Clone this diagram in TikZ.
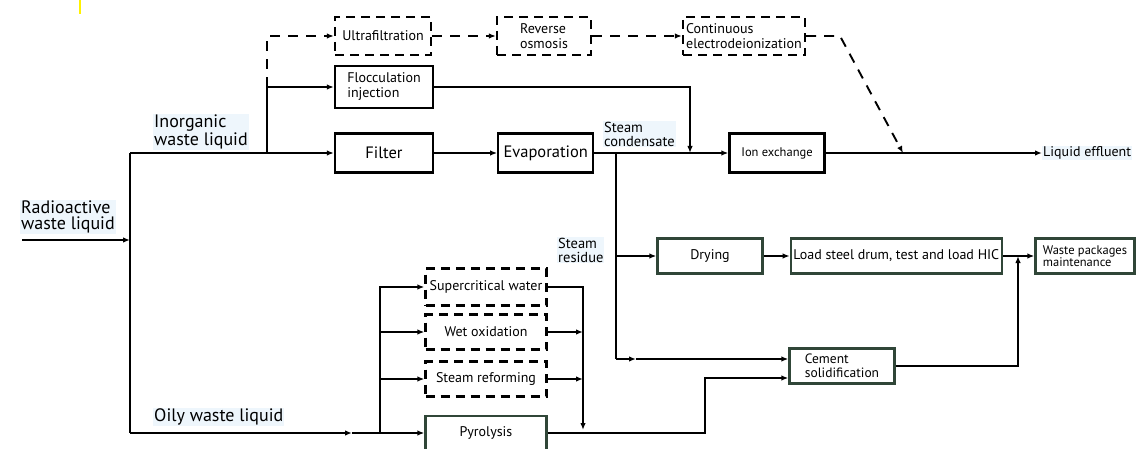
\documentclass[tikz,border=0pt]{standalone}
\usepackage{fontspec}
\setmainfont{PT Sans}
\usetikzlibrary{arrows.meta,positioning,calc}
\definecolor{boxgreen}{RGB}{48,70,56}
\definecolor{tagblue}{RGB}{238,246,252}
\tikzset{
	box/.style={
		rectangle, draw, line width=2.3pt, fill=white,
		align=left, inner sep=2pt,
		font=\fontsize{14}{15}\selectfont,
	},
	dbox/.style={box, dash pattern=on 9pt off 6pt},
	gbox/.style={box, draw=boxgreen},
	tag/.style={align=left, inner sep=1pt, fill=tagblue, font=\fontsize{18}{16}\selectfont},
	flow/.style={->, line width=1.9pt},
	dflow/.style={flow, dash pattern=on 10pt off 8pt},
}

\begin{document}
\begin{tikzpicture}[x=1pt, y=-1pt, >={Latex[length=7pt,width=5.5pt]}]
	\useasboundingbox (0,0) rectangle (1138,449);
	\draw[yellow, line width=2.5pt] (80,0) -- (80,14);
	% Inorganic branch boxes
	\node[dbox, minimum width=96pt, minimum height=38pt] (ultra) at (383,36) {Ultrafiltration};
	\node[dbox, minimum width=94pt, minimum height=38pt] (revosm) at (544,36) {Reverse\\osmosis};
	\node[dbox, minimum width=122pt, minimum height=38pt] (cedi) at (744,36) {Continuous\\electrodeionization};
	\node[box, minimum width=98pt, minimum height=42pt] (flocc) at (384,87) {Flocculation\\injection};
	\node[box, minimum width=98pt, minimum height=39pt, font=\fontsize{16.5}{17}\selectfont] (filter) at (384,153) {Filter};
	\node[box, minimum width=95pt, minimum height=39pt, font=\fontsize{16.5}{17}\selectfont, right=63pt of filter] (evap) {Evaporation};
	\node[box, minimum width=95pt, minimum height=39pt, font=\fontsize{12.5}{14}\selectfont] (ionx) at (777,153) {Ion exchange};
	% Residue and solid waste boxes
	\node[gbox, minimum width=105pt, minimum height=35pt] (drying) at (710,256) {Drying};
	\node[gbox, minimum width=211pt, minimum height=35pt, right=26pt of drying] (loadhic) {Load steel drum, test and load HIC};
	\node[gbox, minimum width=99pt, minimum height=35pt, font=\fontsize{12.5}{12}\selectfont] (wastepk) at (1085,256) {Waste packages\\maintenance};
	\node[gbox, minimum width=105pt, minimum height=35pt, font=\fontsize{13.5}{14}\selectfont] (cement) at (842,366) {Cement\\solidification};
	% Oily branch boxes
	\node[dbox, minimum width=121pt, minimum height=37pt] (scw) at (486,287) {Supercritical water};
	\node[dbox, minimum width=121pt, minimum height=35pt] (wetox) at (486,332) {Wet oxidation};
	\node[dbox, minimum width=121pt, minimum height=35pt] (steamref) at (486,379) {Steam reforming};
	\node[gbox, minimum width=121pt, minimum height=34pt] (pyro) at (486,433) {Pyrolysis};
	% Labels
	\node[tag, anchor=west] (radio) at (20,217) {Radioactive\\waste liquid};
	\node[tag, anchor=west] (inorglbl) at (153,132) {Inorganic\\waste liquid};
	\node[tag, anchor=west] (oilylbl) at (153,417) {Oily waste liquid};
	\node[tag, anchor=west, font=\fontsize{14.5}{14}\selectfont] (condlbl) at (603,134) {Steam\\condensate};
	\node[tag, anchor=west, font=\fontsize{14.5}{14}\selectfont] (residlbl) at (557,250) {Steam\\residue};
	\node[tag, anchor=west, font=\fontsize{14}{14}\selectfont] (effluent) at (1042,153) {Liquid effluent};
	% Junction points
	\coordinate (rin) at (22,240);
	\coordinate (rjoin) at (130,240);
	\coordinate (inorg) at (130,153);
	\coordinate (oily) at (130,433);
	\coordinate (split) at (267,153);
	\coordinate (floctap) at (690,153);
	\coordinate (cedibend) at (840,36);
	\coordinate (cedijoin) at (903,153);
	\coordinate (cond) at (616,153);
	\coordinate (resid) at (616,256);
	\coordinate (condlow) at (616,359);
	\coordinate (condmid) at (636,359);
	\coordinate (packjoin) at (1018,256);
	\coordinate (oilmid) at (352,433);
	\coordinate (oilsplit) at (380,433);
	\coordinate (collect) at (583,433);
	\coordinate (pyrobend) at (705,433);
	% Inorganic connections
	\draw[flow] (rin) -- (rjoin);
	\draw[line width=1.9pt] (inorg) -- (oily);
	\draw[flow] (inorg) -- (filter);
	\draw[flow] (split) |- (flocc);
	\draw[dflow] (split |- flocc) |- (ultra);
	\draw[dflow] (ultra) -- (revosm);
	\draw[dflow] (revosm) -- (cedi);
	\draw[dflow] (cedi.east) -- (cedibend) -- (cedijoin);
	\draw[flow] (flocc) -| (floctap);
	\draw[flow] (filter) -- (evap);
	\draw[flow] (evap) -- (ionx);
	\draw[flow] (ionx) -- (effluent);
	\draw[line width=1.9pt] (cond) -- (condlow);
	\draw[flow] (condlow) -- (condmid);
	\draw[flow] (condmid) -- (cement.west |- condlow);
	\draw[flow] (resid) -- (drying);
	\draw[flow] (drying) -- (loadhic);
	\draw[flow] (loadhic) -- (wastepk);
	\draw[flow] (cement) -| (packjoin);
	% Oily connections
	\draw[flow] (oily) -- (oilmid);
	\draw[flow] (oilmid) -- (pyro);
	\draw[flow] (oilsplit) |- (scw);
	\draw[flow] (oilsplit |- wetox) -- (wetox);
	\draw[flow] (oilsplit |- steamref) -- (steamref);
	\draw[flow, shorten >=3pt] (scw) -| (collect);
	\draw[flow] (wetox) -- (collect |- wetox);
	\draw[flow] (steamref) -- (collect |- steamref);
	\draw[flow] (pyro) -- (pyrobend) |- ($(cement.west)+(0,12)$);
\end{tikzpicture}
\end{document}
